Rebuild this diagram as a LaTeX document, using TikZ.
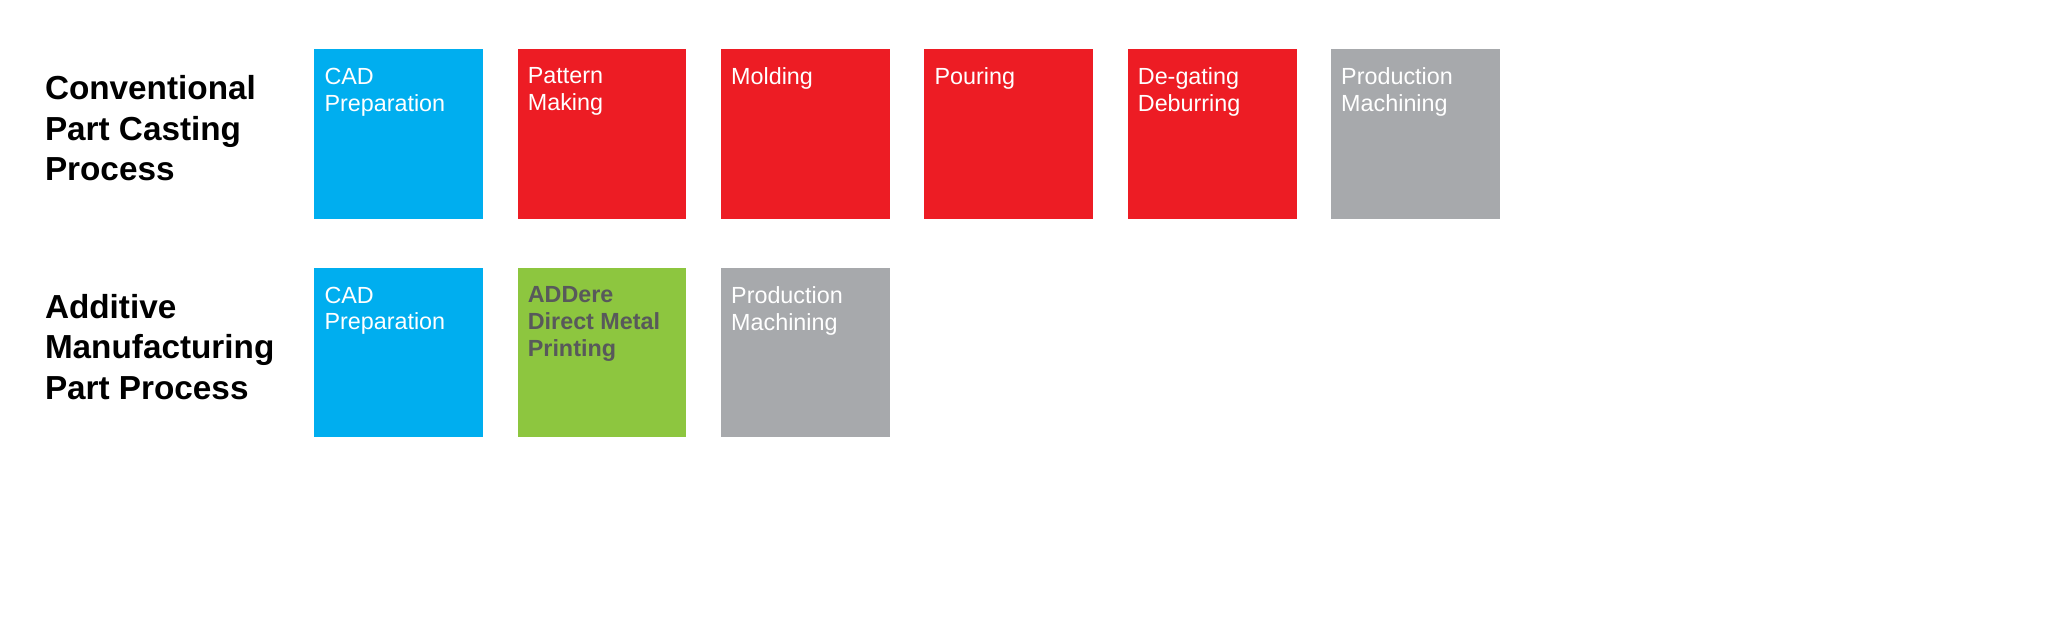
\documentclass[tikz,border=0pt]{standalone}
\usepackage{fontspec}
\setmainfont{Liberation Sans}
\usetikzlibrary{positioning}

\definecolor{cadblue}{HTML}{00AEEF}
\definecolor{castred}{HTML}{ED1C24}
\definecolor{machgray}{HTML}{A7A9AC}
\definecolor{printgreen}{HTML}{8DC63F}
\definecolor{darktext}{HTML}{58595B}

\tikzset{
  stepbox/.style={draw=none, minimum width=88.3pt, minimum height=88.4pt, inner sep=0pt, anchor=north west},
  steptext/.style={align=left, inner sep=0pt, text=white, font=\fontsize{12.2}{14}\selectfont},
  rowtitle/.style={align=left, inner sep=0pt, anchor=north west, font=\fontsize{17.4}{21.1}\selectfont\bfseries},
}

\begin{document}
\begin{tikzpicture}[x=0.4pt, y=-0.4pt]
\useasboundingbox (0,0) rectangle (2676,828.4);

\node[rowtitle] (convtitle) at (58.3,98.2) {Conventional\\Part Casting\\Process};

\node[stepbox, fill=cadblue] (convcad) at (410,64) {};
\node[steptext, below right=9.7pt and 5.4pt of convcad.north west] (convcadtxt) {CAD\\Preparation};

\node[stepbox, fill=castred] (pattern) at (675.7,64) {};
\node[steptext, below right=9.7pt and 5.4pt of pattern.north west] (patterntxt) {Pattern\\Making};

\node[stepbox, fill=castred] (molding) at (941.4,64) {};
\node[steptext, below right=9.7pt and 5.4pt of molding.north west] (moldingtxt) {Molding};

\node[stepbox, fill=castred] (pouring) at (1207.1,64) {};
\node[steptext, below right=9.7pt and 5.4pt of pouring.north west] (pouringtxt) {Pouring};

\node[stepbox, fill=castred] (degating) at (1472.8,64) {};
\node[steptext, below right=9.7pt and 5.4pt of degating.north west] (degatingtxt) {De-gating\\Deburring};

\node[stepbox, fill=machgray] (convmach) at (1738.5,64) {};
\node[steptext, below right=9.7pt and 5.4pt of convmach.north west] (convmachtxt) {Production\\Machining};

\node[rowtitle] (addtitle) at (58.3,384) {Additive\\Manufacturing\\Part Process};

\node[stepbox, fill=cadblue] (addcad) at (410,350) {};
\node[steptext, below right=9.7pt and 5.4pt of addcad.north west] (addcadtxt) {CAD\\Preparation};

\node[stepbox, fill=printgreen] (addere) at (675.7,350) {};
\node[steptext, text=darktext, font=\fontsize{12.2}{14}\selectfont\bfseries, below right=9.7pt and 5.4pt of addere.north west] (adderetxt) {ADDere\\Direct Metal\\Printing};

\node[stepbox, fill=machgray] (addmach) at (941.4,350) {};
\node[steptext, below right=9.7pt and 5.4pt of addmach.north west] (addmachtxt) {Production\\Machining};
\end{tikzpicture}
\end{document}
